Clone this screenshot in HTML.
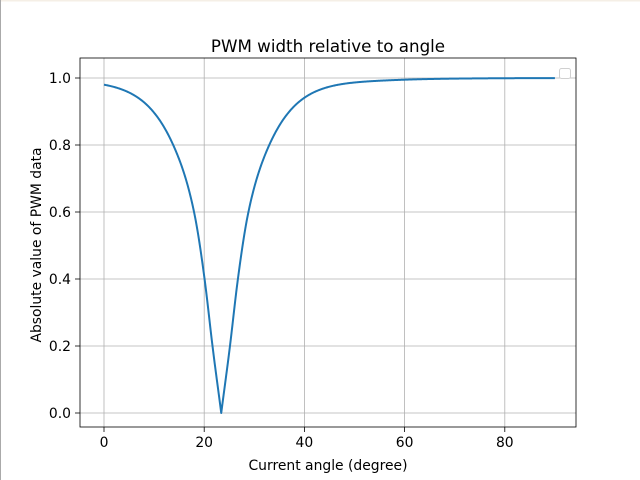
<!DOCTYPE html>
<html><head><meta charset="utf-8"><style>
html,body{margin:0;padding:0;background:#fff;}
svg{display:block;font-family:"DejaVu Sans","Liberation Sans",sans-serif;}
</style></head><body>
<svg id="s" width="640" height="480" viewBox="0 0 640 480" xmlns="http://www.w3.org/2000/svg">
<rect width="640" height="480" fill="#fff"/>
<line x1="0" y1="0.5" x2="640" y2="0.5" stroke="#f5efe6" stroke-width="2"/>
<line x1="0.5" y1="0" x2="0.5" y2="480" stroke="#aaa" stroke-width="1"/>
<g stroke="#b0b0b0" stroke-width="0.8">
<line x1="104" y1="58" x2="104" y2="427"/>
<line x1="204.2" y1="58" x2="204.2" y2="427"/>
<line x1="304.4" y1="58" x2="304.4" y2="427"/>
<line x1="404.6" y1="58" x2="404.6" y2="427"/>
<line x1="504.8" y1="58" x2="504.8" y2="427"/>
<line x1="80" y1="413" x2="576" y2="413"/>
<line x1="80" y1="346" x2="576" y2="346"/>
<line x1="80" y1="279" x2="576" y2="279"/>
<line x1="80" y1="212" x2="576" y2="212"/>
<line x1="80" y1="145" x2="576" y2="145"/>
<line x1="80" y1="78" x2="576" y2="78"/>
</g>
<path id="c" d="" fill="none" stroke="#1f77b4" stroke-width="2" stroke-linejoin="round"/>
<rect x="80" y="58" width="496" height="369" fill="none" stroke="#000" stroke-width="0.8"/>
<g stroke="#000" stroke-width="0.8">
<line x1="104" y1="427" x2="104" y2="432"/>
<line x1="204.2" y1="427" x2="204.2" y2="432"/>
<line x1="304.4" y1="427" x2="304.4" y2="432"/>
<line x1="404.6" y1="427" x2="404.6" y2="432"/>
<line x1="504.8" y1="427" x2="504.8" y2="432"/>
<line x1="75" y1="413" x2="80" y2="413"/>
<line x1="75" y1="346" x2="80" y2="346"/>
<line x1="75" y1="279" x2="80" y2="279"/>
<line x1="75" y1="212" x2="80" y2="212"/>
<line x1="75" y1="145" x2="80" y2="145"/>
<line x1="75" y1="78" x2="80" y2="78"/>
</g>
<g font-size="13.9" fill="#000" text-anchor="middle">
<text x="104" y="447">0</text>
<text x="204.2" y="447">20</text>
<text x="304.4" y="447">40</text>
<text x="404.6" y="447">60</text>
<text x="504.8" y="447">80</text>
</g>
<g font-size="13.9" fill="#000" text-anchor="end">
<text x="71" y="418">0.0</text>
<text x="71" y="351">0.2</text>
<text x="71" y="284">0.4</text>
<text x="71" y="217">0.6</text>
<text x="71" y="150">0.8</text>
<text x="71" y="83">1.0</text>
</g>
<text x="328" y="470" font-size="13.9" text-anchor="middle">Current angle (degree)</text>
<text x="0" y="0" font-size="13.9" text-anchor="middle" transform="translate(41,245) rotate(-90)">Absolute value of PWM data</text>
<text x="328" y="52" font-size="16.7" text-anchor="middle">PWM width relative to angle</text>
<rect x="559.5" y="68.5" width="11" height="10" rx="2" fill="#fff" stroke="#d0d0d0" stroke-width="1"/>
</svg>
<script>
(function(){
var P=[[0,0],[1.8,0.21],[3.3,0.42],[5.4,0.69],[9.6,1.10],[23.4,2.298],[36.6,2.99],[66.6,4.5]];
var n=P.length,m=[],dl=[];
for(var i=0;i<n-1;i++)dl.push((P[i+1][1]-P[i][1])/(P[i+1][0]-P[i][0]));
m[0]=dl[0];m[n-1]=dl[n-2];
for(i=1;i<n-1;i++)m[i]=(dl[i-1]+dl[i])/2;
function g(d){for(var i=0;i<n-1;i++){if(d<=P[i+1][0]){var h=P[i+1][0]-P[i][0],t=(d-P[i][0])/h,t2=t*t,t3=t2*t;
return (2*t3-3*t2+1)*P[i][1]+(t3-2*t2+t)*h*m[i]+(-2*t3+3*t2)*P[i+1][1]+(t3-t2)*h*m[i+1];}}return 4.5;}
function th(x){var e=Math.exp(2*x);return (e-1)/(e+1);}
var p=[],N=900;
for(var k=0;k<=N;k++){var x=90*k/N;var y=th(g(Math.abs(x-23.4)));
p.push((k?'L':'M')+(104+5.01*x).toFixed(2)+','+(413-335*y).toFixed(2));}
document.getElementById('c').setAttribute('d',p.join(''));
})();
</script>
</body></html>
